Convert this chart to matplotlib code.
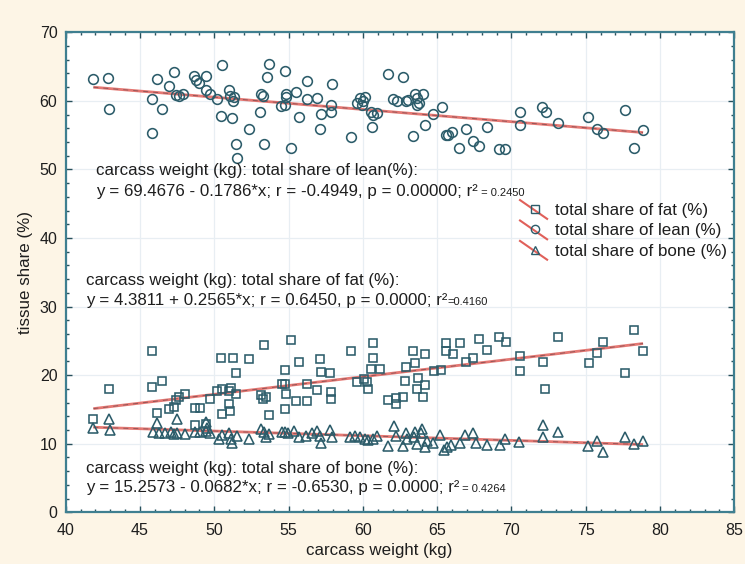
import matplotlib
matplotlib.use("Agg")
import matplotlib.pyplot as plt
from matplotlib.lines import Line2D
from matplotlib.legend_handler import HandlerBase
from matplotlib import transforms
from matplotlib.ticker import MultipleLocator
import numpy as np

plt.rcParams['font.family'] = ['Liberation Sans', 'DejaVu Sans']

# ---- data ----
lean_x = [41.86, 42.86, 42.93, 45.8, 45.8, 46.15, 46.5, 46.98, 47.3, 47.4, 47.6, 47.9,
          48.65, 48.8, 48.97, 49.43, 49.43, 49.73, 50.2, 50.55, 50.45, 51.0, 51.05, 51.25,
          51.35, 51.22, 51.45, 51.5, 52.35, 53.16, 53.26, 53.1, 53.36, 53.56, 53.66, 54.46,
          54.76, 54.8, 54.86, 54.76, 55.17, 55.47, 55.67, 56.23, 56.23, 56.89, 57.09, 57.19,
          57.86, 57.86, 57.9, 59.22, 59.6, 59.84, 60.0, 60.14, 59.95, 60.56, 60.67, 60.98,
          60.62, 61.7, 62.0, 62.3, 62.67, 62.92, 63.03, 63.4, 63.54, 63.64, 63.8, 64.05,
          63.64, 64.2, 64.7, 65.3, 65.6, 65.7, 66.0, 66.5, 66.93, 67.44, 67.85, 68.35,
          69.16, 69.56, 70.58, 70.58, 72.03, 72.3, 73.14, 75.14, 75.75, 76.15, 77.63, 78.24,
          78.86]
lean_y = [63.25, 63.4, 58.85, 55.35, 60.25, 63.15, 58.75, 62.15, 64.25, 60.85, 60.65, 61.05,
          63.65, 63.05, 62.65, 63.65, 61.55, 61.05, 60.25, 65.25, 57.75, 61.55, 60.75, 59.95,
          60.55, 57.45, 53.65, 51.6, 55.95, 60.95, 60.75, 58.45, 53.65, 63.55, 65.45, 59.25,
          59.45, 60.55, 61.05, 64.35, 53.15, 61.35, 57.65, 62.85, 60.25, 60.35, 55.85, 58.15,
          59.45, 58.45, 62.45, 54.75, 59.75, 60.45, 60.05, 60.55, 59.35, 58.35, 57.95, 58.25,
          56.15, 63.95, 60.25, 60.05, 63.55, 59.95, 60.15, 54.85, 61.05, 60.45, 59.75, 61.05,
          59.35, 56.45, 58.15, 59.15, 55.05, 55.05, 55.45, 53.15, 55.95, 54.15, 53.35, 56.15,
          52.95, 52.95, 58.45, 56.45, 59.05, 58.35, 56.75, 57.65, 55.95, 55.35, 58.65, 53.15,
          55.75]

fat_x = [41.86, 42.93, 45.8, 45.8, 46.5, 46.15, 46.98, 47.3, 47.4, 47.6, 48.0, 48.72,
         49.02, 48.72, 49.43, 49.73, 50.2, 50.45, 50.55, 51.0, 51.15, 51.0, 50.55, 51.05,
         51.25, 51.45, 51.45, 52.35, 53.16, 53.26, 53.46, 53.36, 53.66, 54.56, 54.76, 54.76,
         54.76, 54.86, 55.17, 55.47, 55.67, 56.23, 56.23, 56.89, 57.09, 57.19, 57.8, 57.88,
         57.88, 59.22, 59.6, 60.05, 60.25, 60.35, 60.67, 60.67, 60.56, 61.18, 61.7, 62.2,
         62.25, 62.67, 62.82, 62.92, 63.4, 63.54, 63.64, 63.69, 64.05, 64.2, 64.2, 64.76,
         65.28, 65.6, 65.6, 66.06, 66.53, 66.93, 67.44, 67.85, 68.35, 69.16, 69.66, 70.58,
         70.58, 72.1, 72.25, 73.14, 75.24, 75.75, 76.15, 77.63, 78.26, 78.86]
fat_y = [13.55, 18.05, 23.45, 18.25, 19.15, 14.55, 15.05, 15.35, 16.35, 16.85, 17.25, 15.15,
         15.15, 12.75, 12.85, 16.45, 17.75, 22.55, 17.95, 17.75, 18.15, 15.75, 14.35, 14.75,
         22.45, 20.25, 17.25, 22.35, 17.05, 16.55, 16.75, 24.35, 14.15, 18.7, 18.7, 20.75,
         15.05, 17.25, 25.15, 16.25, 21.85, 18.75, 16.25, 17.85, 22.35, 20.45, 20.25, 17.55,
         16.55, 23.55, 19.05, 19.45, 19.05, 17.95, 24.65, 22.45, 20.85, 20.85, 16.35, 15.85,
         16.65, 16.75, 19.15, 21.25, 23.55, 21.75, 17.95, 19.65, 16.75, 18.55, 23.05, 20.55,
         20.75, 24.75, 23.55, 23.15, 24.75, 21.85, 22.45, 25.25, 23.65, 25.55, 24.85, 22.75,
         20.55, 21.95, 18.05, 25.55, 21.75, 23.25, 24.85, 20.25, 26.65, 23.45]

bone_x = [41.86, 42.93, 42.99, 45.85, 46.15, 46.3, 46.7, 47.1, 47.3, 47.5, 48.0, 47.5,
          48.72, 49.02, 49.43, 49.73, 49.43, 49.53, 50.35, 50.55, 51.0, 51.11, 51.22, 51.55,
          52.35, 53.16, 53.36, 53.66, 53.46, 54.56, 54.76, 54.96, 55.37, 55.67, 56.18, 56.59,
          56.89, 57.09, 57.19, 57.8, 57.9, 59.12, 59.48, 59.84, 60.15, 60.35, 60.67, 60.98,
          61.7, 62.1, 62.2, 62.67, 62.9, 62.98, 63.44, 63.54, 63.64, 63.9, 64.0, 64.15,
          64.35, 64.7, 65.2, 65.48, 65.68, 65.95, 66.53, 66.87, 67.44, 67.64, 68.35, 69.22,
          69.56, 70.53, 72.14, 72.14, 73.14, 75.14, 75.75, 76.15, 77.63, 78.26, 78.86]
bone_y = [12.35, 13.65, 11.95, 11.75, 12.95, 11.55, 11.55, 11.75, 11.45, 11.55, 11.45, 13.55,
          11.65, 11.65, 11.85, 11.55, 13.2, 12.35, 10.65, 11.25, 11.5, 10.75, 10.05, 11.15,
          10.65, 12.15, 11.75, 11.35, 11.05, 11.65, 11.75, 11.55, 11.85, 11.05, 11.15, 11.5,
          11.85, 11.15, 10.15, 12.05, 11.05, 11.05, 11.15, 10.95, 10.75, 10.55, 10.75, 11.15,
          9.65, 12.55, 11.15, 9.65, 11.5, 10.75, 11.05, 11.75, 9.95, 11.5, 12.1, 9.55,
          10.35, 10.05, 11.25, 9.05, 9.55, 9.8, 10.05, 11.25, 11.5, 10.05, 9.8, 9.8,
          10.75, 10.2, 12.75, 11.05, 11.75, 9.65, 10.45, 8.75, 10.95, 9.95, 10.35]

series_labels = ['total share of fat (%)', 'total share of lean (%)', 'total share of bone (%)']
# regression coefficients printed on the chart (intercept, slope)
fat_fit = (4.3811, 0.2565)
lean_fit = (69.4676, -0.1786)
bone_fit = (15.2573, -0.0682)

eq_lean = ["carcass weight (kg): total share of lean(%):",
           "y = 69.4676 - 0.1786*x; r = -0.4949, p = 0.00000; r²", " = 0.2450"]
eq_fat = ["carcass weight (kg): total share of fat (%):",
          "y = 4.3811 + 0.2565*x; r = 0.6450, p = 0.0000; r²", "=0.4160"]
eq_bone = ["carcass weight (kg): total share of bone (%):",
           "y = 15.2573 - 0.0682*x; r = -0.6530, p = 0.0000; r²", " = 0.4264"]

xlabel = "carcass weight (kg)"
ylabel = "tissue share (%)"

# ---- styling ----
BG = '#fdf5e6'
EDGE = '#2c5c6a'
RED = '#e0605a'
SPINE = '#3f7f90'
TXT = '#1e1e1e'
FS = 12.2

fig = plt.figure(figsize=(7.45, 5.64), dpi=100, facecolor=BG)
ax = fig.add_axes([0.0882, 0.0917, 0.8974, 0.851])
ax.set_facecolor('white')

ax.set_xlim(40, 85)
ax.set_ylim(0, 70)
ax.xaxis.set_major_locator(MultipleLocator(5))
ax.xaxis.set_minor_locator(MultipleLocator(1))
ax.yaxis.set_major_locator(MultipleLocator(10))
ax.yaxis.set_minor_locator(MultipleLocator(2))
ax.tick_params(which='both', direction='in', top=True, right=True, color='#27505c',
               labelsize=11.5, labelcolor=TXT)
ax.tick_params(which='major', length=4, width=1)
ax.tick_params(which='minor', length=2.5, width=1)
ax.tick_params(axis='x', pad=8)
ax.tick_params(axis='y', pad=6)
for s in ax.spines.values():
    s.set_color(SPINE)
    s.set_linewidth(1.6)
ax.grid(True, which='major', color='#e8eef3', lw=0.9)
ax.set_axisbelow(True)

def fit_line(xs, coef):
    xx = np.array([min(xs), max(xs)])
    yy = coef[0] + coef[1] * xx
    ax.plot(xx, yy, color=RED, lw=2.0, alpha=0.85, zorder=2, solid_capstyle='butt')
    ax.plot(xx, yy, color='#40303a', lw=0.6, ls=(0, (6, 6)), alpha=0.55, zorder=2)

fit_line(fat_x, fat_fit)
fit_line(lean_x, lean_fit)
fit_line(bone_x, bone_fit)

mk = dict(ls='none', mfc='none', mec=EDGE, mew=1.15, zorder=3)
h_fat, = ax.plot(fat_x, fat_y, marker='s', ms=6.3, **mk)
h_lean, = ax.plot(lean_x, lean_y, marker='o', ms=7, **mk)
h_bone, = ax.plot(bone_x, bone_y, marker='^', ms=7.5, **mk)

class DiagHandler(HandlerBase):
    def create_artists(self, legend, orig, xdescent, ydescent, width, height, fontsize, trans):
        x0, x1 = -xdescent, -xdescent + width
        y0, y1 = -ydescent, -ydescent + height
        ln = Line2D([x0, x1], [y1 + 2, y0 - 3], color=RED, lw=1.5, transform=trans)
        m = Line2D([x0 + 0.55 * width], [y0 + 0.5 * height], marker=orig.get_marker(),
                   ms=orig.get_markersize() * 0.85, mfc='none', mec=EDGE, mew=1.0,
                   ls='none', transform=trans)
        return [ln, m]

leg = ax.legend([h_fat, h_lean, h_bone], series_labels, loc='upper left',
                bbox_to_anchor=(0.6795, 0.645), frameon=False, fontsize=FS,
                handler_map={Line2D: DiagHandler()}, handlelength=1.6,
                handletextpad=0.45, labelspacing=0.32, borderaxespad=0, borderpad=0)
for t in leg.get_texts():
    t.set_color(TXT)

renderer = fig.canvas.get_renderer()

def equation(x, y1, y2, lines):
    ax.text(x, y1, lines[0], fontsize=FS, color=TXT, va='baseline', ha='left', zorder=4)
    t2 = ax.text(x, y2, lines[1], fontsize=FS, color=TXT, va='baseline', ha='left', zorder=4)
    bb = t2.get_window_extent(renderer=renderer)
    tr = transforms.offset_copy(ax.transData, fig=fig, x=bb.width, y=0, units='dots')
    ax.text(x, y2, lines[2], fontsize=8, color=TXT, va='baseline', ha='left',
            transform=tr, zorder=4)

equation(42.04, 49.2, 46.1, eq_lean)
equation(41.35, 33.1, 30.2, eq_fat)
equation(41.35, 5.7, 2.9, eq_bone)

ax.set_xlabel(xlabel, fontsize=FS, color=TXT, labelpad=3)
ax.xaxis.set_label_coords(0.4686, -0.064)
ax.set_ylabel(ylabel, fontsize=FS, color=TXT, labelpad=5)

fig.savefig('out.png', dpi=100, facecolor=BG)
